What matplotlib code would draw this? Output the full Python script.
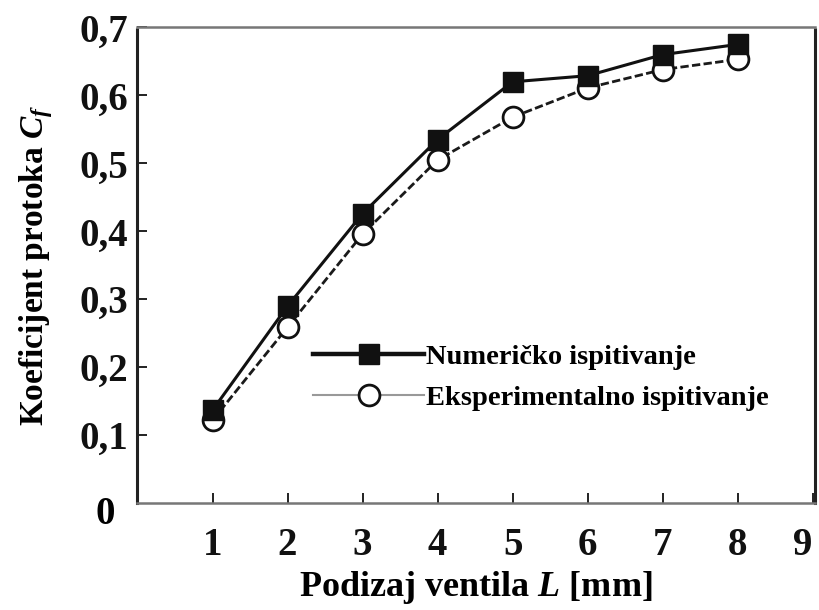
import matplotlib
matplotlib.use("Agg")
import matplotlib.pyplot as plt
from matplotlib.lines import Line2D

plt.rcParams['font.family'] = ['Liberation Serif', 'DejaVu Serif']
plt.rcParams['mathtext.fontset'] = 'custom'
plt.rcParams['mathtext.it'] = 'Liberation Serif:italic:bold'
plt.rcParams['mathtext.rm'] = 'Liberation Serif:bold'

lift = [1, 2, 3, 4, 5, 6, 7, 8]
numericko = [0.137, 0.290, 0.426, 0.535, 0.620, 0.629, 0.660, 0.675]
eksperimentalno = [0.122, 0.259, 0.396, 0.505, 0.568, 0.611, 0.638, 0.653]
xtick_vals = [1, 2, 3, 4, 5, 6, 7, 8, 9]
ytick_vals = [0.1, 0.2, 0.3, 0.4, 0.5, 0.6, 0.7]
ytick_labels = ['0,1', '0,2', '0,3', '0,4', '0,5', '0,6', '0,7']
label_num = 'Numeričko ispitivanje'
label_exp = 'Eksperimentalno ispitivanje'

fig = plt.figure(figsize=(8.19, 6.10), dpi=100)
ax = fig.add_axes([0.167, 0.175, 0.828, 0.780])

ax.plot(lift, eksperimentalno, color='#1a1a1a', lw=2.0, ls=(0, (3, 1.2)),
        marker='o', ms=15, mfc='white', mec='#111111', mew=2.0, zorder=3)
ax.plot(lift, numericko, color='#111111', lw=2.2,
        marker='s', ms=14, mfc='#111111', mec='#111111', zorder=4)

ax.set_xlim(-0.01, 9.03)
ax.set_ylim(0, 0.7)
ax.set_xticks(xtick_vals)
ax.set_xticklabels([str(v) for v in xtick_vals], fontsize=28, fontweight='bold')
ax.get_xticklabels()[-1].set_horizontalalignment('right')
ax.set_yticks(ytick_vals)
ax.set_yticklabels(ytick_labels, fontsize=28, fontweight='bold')
ax.tick_params(axis='x', direction='in', length=7, width=1.3, pad=17, colors='#111111')
ax.tick_params(axis='y', direction='in', length=7, width=1.3, pad=6, colors='#111111')
ax.annotate('0', xy=(0, 0), xycoords='axes fraction', xytext=(-16, -8),
            textcoords='offset points', ha='right', va='center',
            fontsize=28, fontweight='bold')

for s in ['top', 'bottom']:
    ax.spines[s].set_color('#777777')
    ax.spines[s].set_linewidth(1.8)
for s in ['left', 'right']:
    ax.spines[s].set_color('#222222')
    ax.spines[s].set_linewidth(2.2)
    ax.spines[s].set_linestyle((0, (2, 1)))

ax.set_xlabel('Podizaj ventila $L$ [mm]', fontsize=26, fontweight='bold', labelpad=4)
ax.set_ylabel('Koeficijent protoka $C_f$', fontsize=24, fontweight='bold', labelpad=18)

handles = [
    Line2D([], [], color='#111111', lw=3.2, marker='s', ms=14, mfc='#111111', mec='#111111'),
    Line2D([], [], color='#999999', lw=1.5, marker='o', ms=15, mfc='white', mec='#111111', mew=2.0),
]
leg = ax.legend(handles, [label_num, label_exp], loc='center left',
                bbox_to_anchor=(0.26, 0.264), frameon=False, handlelength=3.9,
                handletextpad=0.07, labelspacing=0.55, borderpad=0, borderaxespad=0,
                prop={'size': 20.5, 'weight': 'bold'})

fig.savefig('out.png', dpi=100)
